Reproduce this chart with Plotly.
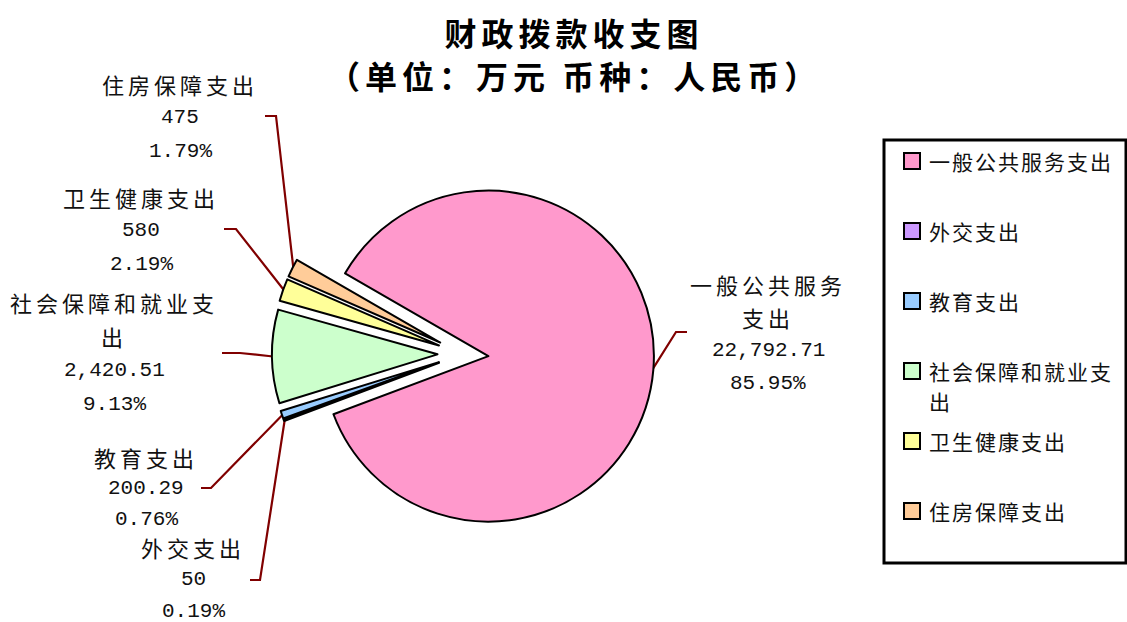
import math
import plotly.graph_objects as go

# ---------------- data ----------------
categories = ['一般公共服务支出', '外交支出', '教育支出', '社会保障和就业支出', '卫生健康支出', '住房保障支出']
values = [22792.71, 50, 200.29, 2420.51, 580, 475]
colors = ['#FF99CC', '#CC99FF', '#99CCFF', '#CCFFCC', '#FFFF99', '#FFCC99']
title_lines = ['财政拨款收支图', '（单位：万元 币种：人民币）']

# ---------------- layout constants (pixels) ----------------
W, H = 1127, 622
CX, CY, R = 463, 354, 165.5          # pie centre / radius
PULL = 0.154
ROTATION = -60                        # first slice starts 60deg left of 12 o'clock
CN_FONT = 'Noto Sans CJK SC'
NUM_FONT = 'Liberation Mono, Noto Sans CJK SC'
LEADER_COLOR = '#800000'

# label block placement: (centre x, first line y, line spacing, wrap chars)
label_cfg = {
    '一般公共服务支出': (768, 284, 33, 6),
    '外交支出': (193, 547, 32, 0),
    '教育支出': (146, 457, 31, 0),
    '社会保障和就业支出': (114, 302, 34, 8),
    '卫生健康支出': (141, 197, 33.5, 0),
    '住房保障支出': (180, 84, 33.5, 0),
}
# leader line: label end point, elbow point (edge point computed from slice angle)
leader_cfg = {
    '一般公共服务支出': ((687, 332), (676, 332)),
    '外交支出': ((250, 580), (260, 580)),
    '教育支出': ((201, 488), (211, 488)),
    '社会保障和就业支出': ((222, 353), (240, 353)),
    '卫生健康支出': ((224, 229), (236, 229)),
    '住房保障支出': ((265, 116), (276, 116)),
}

total = sum(values)


def fmt_value(v):
    if abs(v - round(v)) < 1e-9:
        return f'{int(round(v)):,}'
    return f'{v:,.2f}'


# pie domain so that plotly's radius = R at centre (CX, CY)
box = 2 * R * (1 + PULL)
dom_x = [(CX - box / 2) / W, (CX + box / 2) / W]
dom_y = [1 - (CY + box / 2) / H, 1 - (CY - box / 2) / H]

fig = go.Figure()

fig.add_trace(go.Pie(
    labels=categories, values=values, sort=False, direction='clockwise',
    rotation=ROTATION, pull=[PULL] * len(values),
    marker=dict(colors=colors, line=dict(color='black', width=2)),
    textinfo='none', showlegend=False, domain=dict(x=dom_x, y=dom_y),
))

annotations = []
shapes = []

# slice mid-angles, leader lines, labels
cum = 0.0
for cat, v in zip(categories, values):
    ang = ROTATION + (cum + v / 2) / total * 360.0
    cum += v
    a = math.radians(ang)
    rr = R * (1 + PULL) - 1
    ex, ey = CX + rr * math.sin(a), CY - rr * math.cos(a)
    (sx, sy), (bx, by) = leader_cfg[cat]
    fig.add_trace(go.Scatter(
        x=[sx, bx, ex], y=[sy, by, ey], mode='lines',
        line=dict(color=LEADER_COLOR, width=2.2),
        hoverinfo='skip', showlegend=False,
    ))
    lx, ly, gap, wrap = label_cfg[cat]
    name_lines = [cat[:wrap], cat[wrap:]] if wrap else [cat]
    lines = [(t, CN_FONT, 22) for t in name_lines]
    lines.append((fmt_value(v), NUM_FONT, 21))
    lines.append((f'{v / total * 100:.2f}%', NUM_FONT, 21))
    for k, (t, fam, sz) in enumerate(lines):
        annotations.append(dict(
            x=lx, y=ly + k * gap, xref='x', yref='y', text=t, showarrow=False,
            xanchor='center', yanchor='middle',
            font=dict(family=fam, size=sz, color='#111111'),
        ))

# manual legend
LEG_X0, LEG_Y0, LEG_X1, LEG_Y1 = 884, 140, 1126, 563
shapes.append(dict(type='rect', xref='x', yref='y', x0=LEG_X0, y0=LEG_Y0, x1=LEG_X1, y1=LEG_Y1,
                   line=dict(color='black', width=3), fillcolor='rgba(0,0,0,0)', layer='below'))
legend_wrap = {'社会保障和就业支出': 8}
for i, (cat, col) in enumerate(zip(categories, colors)):
    yc = 161 + 70 * i
    shapes.append(dict(type='rect', xref='x', yref='y', x0=904, x1=920, y0=yc - 8, y1=yc + 8,
                       line=dict(color='black', width=2), fillcolor=col))
    wrap = legend_wrap.get(cat, 0)
    parts = [cat[:wrap], cat[wrap:]] if wrap else [cat]
    for k, t in enumerate(parts):
        annotations.append(dict(
            x=927, y=yc + k * 30, xref='x', yref='y', text=t, showarrow=False,
            xanchor='left', yanchor='middle', align='left',
            font=dict(family=CN_FONT, size=21, color='#111111'),
        ))

# title
for k, t in enumerate(title_lines):
    annotations.append(dict(
        x=574, y=32 + k * 43, xref='x', yref='y', text=t, showarrow=False,
        xanchor='center', yanchor='middle',
        font=dict(family=CN_FONT, size=32, color='black', weight='bold'),
    ))

fig.update_layout(
    width=W, height=H, margin=dict(l=0, r=0, t=0, b=0),
    paper_bgcolor='white', plot_bgcolor='white',
    xaxis=dict(range=[0, W], visible=False, fixedrange=True, domain=[0, 1]),
    yaxis=dict(range=[H, 0], visible=False, fixedrange=True, domain=[0, 1]),
    annotations=annotations, shapes=shapes, showlegend=False,
)

# widen CJK letter spacing like the original (SimSun-style) rendering
post_js = """
document.body.style.margin='0';
var gd = document.getElementById('{plot_id}');
gd.querySelectorAll('.annotation-text').forEach(function(t){
  var s = t.textContent || '';
  if (/[\\u3000-\\u9fff\\uff00-\\uffef]/.test(s)) {
    var fs = parseFloat(t.style.fontSize) || 20;
    var ls = fs >= 30 ? 5 : (fs >= 22 ? 4 : 2);
    t.style.letterSpacing = ls + 'px';
  }
});
"""

fig.write_html('out.html', post_script=post_js, config={'displayModeBar': False})
